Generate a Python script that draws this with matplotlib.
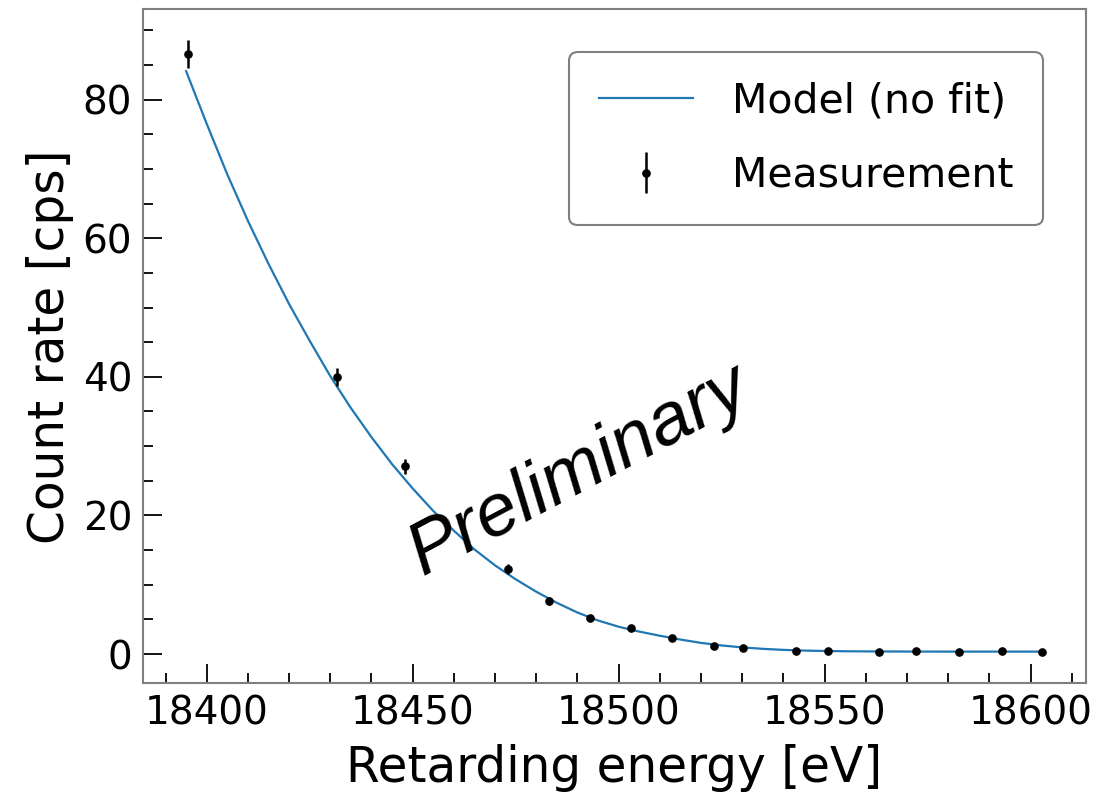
import matplotlib
matplotlib.use("Agg")
import matplotlib.pyplot as plt
from matplotlib.ticker import MultipleLocator

plt.rcParams["font.family"] = ["DejaVu Sans"]

# measured count rates
energy = [18395.4, 18431.6, 18448.1, 18473.2, 18483.0, 18493.1, 18503.1,
          18513.0, 18523.1, 18530.1, 18543.1, 18550.8, 18563.1, 18572.2,
          18582.6, 18593.1, 18602.9]
rate = [86.6, 40.0, 27.1, 12.3, 7.6, 5.2, 3.7, 2.3, 1.2, 0.95, 0.42,
        0.40, 0.33, 0.40, 0.37, 0.40, 0.35]
rate_err = [2.0, 1.3, 1.05, 0.74, 0.58, 0.48, 0.40, 0.32, 0.23, 0.20,
            0.13, 0.13, 0.12, 0.13, 0.13, 0.13, 0.12]

# model prediction (no fit)
model_energy = [18395, 18400, 18405, 18410, 18415, 18420, 18425, 18430,
                18435, 18440, 18445, 18450, 18455, 18460, 18465, 18470,
                18475, 18480, 18485, 18490, 18495, 18500, 18505, 18510,
                18515, 18520, 18525, 18530, 18535, 18540, 18545, 18550,
                18555, 18560, 18570, 18580, 18590, 18603]
model_rate = [84.1, 76.5, 69.2, 62.5, 56.3, 50.5, 45.2, 40.1,
              35.5, 31.3, 27.4, 23.9, 20.65, 17.8, 15.1, 12.8,
              10.8, 9.0, 7.4, 6.0, 4.85, 3.95, 3.25, 2.65,
              2.1, 1.62, 1.25, 0.97, 0.76, 0.61, 0.51, 0.45,
              0.41, 0.39, 0.37, 0.36, 0.36, 0.36]

fig = plt.figure(figsize=(10.98, 7.96), dpi=100)
ax = fig.add_axes([0.1305, 0.1416, 0.8583, 0.8467])

ax.plot(model_energy, model_rate, color="#1f77b4", lw=1.6,
        label="Model (no fit)")
ax.errorbar(energy, rate, yerr=rate_err, fmt="o", color="black",
            ms=5.2, elinewidth=1.8, capsize=0, label="Measurement")

ax.text(0.27, 0.14, "Preliminary", transform=ax.transAxes, rotation=28,
        fontsize=54, family=["Liberation Sans"], style="italic",
        ha="left", va="bottom", zorder=5)

ax.set_xlabel("Retarding energy [eV]", fontsize=35, labelpad=8)
ax.set_ylabel("Count rate [cps]", fontsize=35, labelpad=6)

ax.xaxis.set_major_locator(MultipleLocator(50))
ax.xaxis.set_minor_locator(MultipleLocator(10))
ax.yaxis.set_major_locator(MultipleLocator(20))
ax.yaxis.set_minor_locator(MultipleLocator(5))
ax.tick_params(which="both", direction="in", labelsize=28, width=1.3,
               pad=8)
ax.tick_params(which="major", length=14)
ax.tick_params(which="minor", length=7)

for sp in ax.spines.values():
    sp.set_color("#808080")
    sp.set_linewidth(1.5)

leg = ax.legend(loc="upper right", fontsize=29.5, handlelength=2.3,
                handletextpad=0.94, borderpad=0.72, labelspacing=0.83,
                borderaxespad=1.05, fancybox=True)
leg.get_frame().set_edgecolor("#808080")
leg.get_frame().set_linewidth(1.5)
leg.get_frame().set_alpha(1)

fig.savefig("out.png", dpi=100)
